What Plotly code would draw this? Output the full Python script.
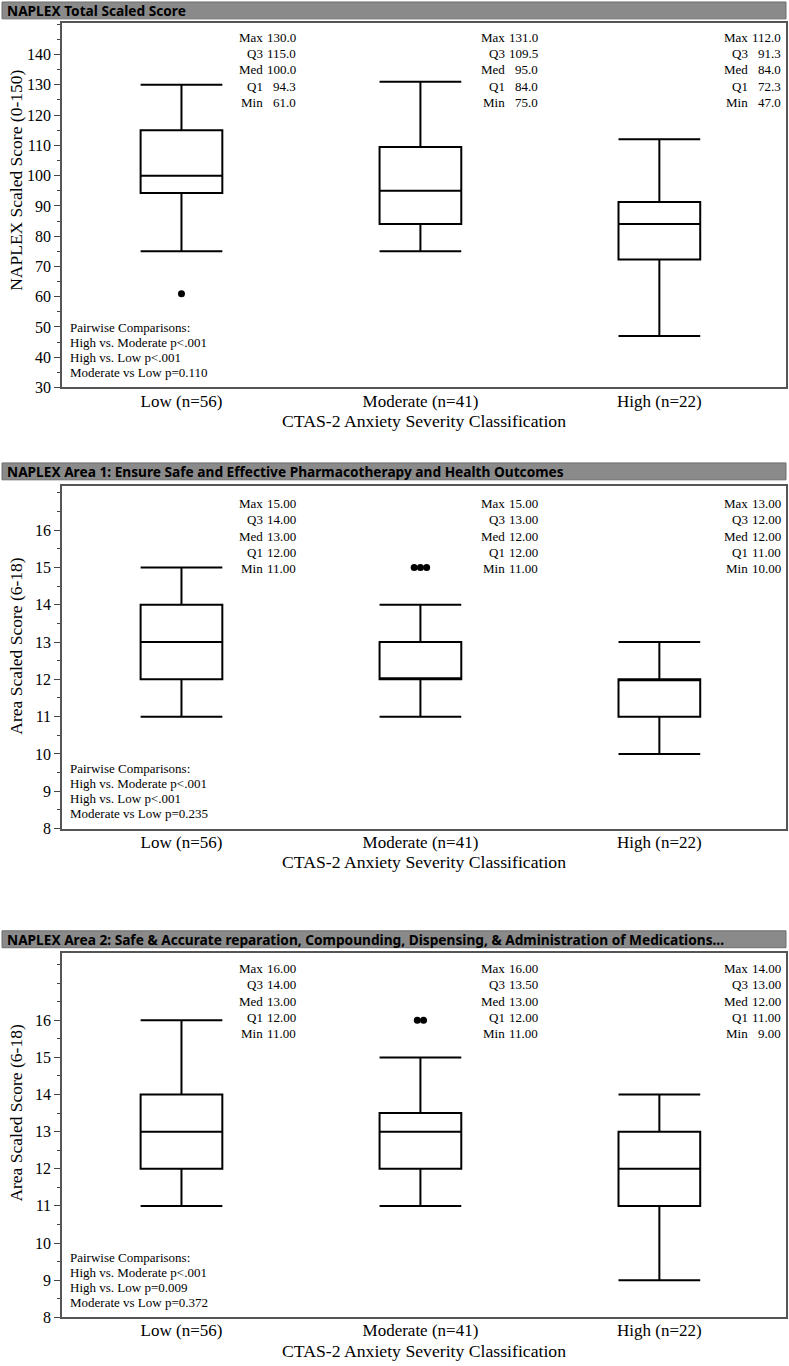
import plotly.graph_objects as go

W, H = 789, 1366

categories = ["Low (n=56)", "Moderate (n=41)", "High (n=22)"]
panel_titles = [
    "NAPLEX Total Scaled Score",
    "NAPLEX Area 1: Ensure Safe and Effective Pharmacotherapy and Health Outcomes",
    "NAPLEX Area 2: Safe & Accurate reparation, Compounding, Dispensing, & Administration of Medications...",
]
y_titles = ["NAPLEX Scaled Score (0-150)", "Area Scaled Score (6-18)", "Area Scaled Score (6-18)"]
x_title = "CTAS-2 Anxiety Severity Classification"
stat_labels = ["Max", "Q3", "Med", "Q1", "Min"]

# Panel 1: total scaled score
p1_max = [130.0, 131.0, 112.0]
p1_q3 = [115.0, 109.5, 91.3]
p1_med = [100.0, 95.0, 84.0]
p1_q1 = [94.3, 84.0, 72.3]
p1_min = [61.0, 75.0, 47.0]
p1_upper_whisker = [130.0, 131.0, 112.0]
p1_lower_whisker = [75.0, 75.0, 47.0]
p1_outliers = [[61.0], [], []]

# Panel 2: Area 1
p2_max = [15.00, 15.00, 13.00]
p2_q3 = [14.00, 13.00, 12.00]
p2_med = [13.00, 12.00, 12.00]
p2_q1 = [12.00, 12.00, 11.00]
p2_min = [11.00, 11.00, 10.00]
p2_upper_whisker = [15.0, 14.0, 13.0]
p2_lower_whisker = [11.0, 11.0, 10.0]
p2_outliers = [[], [15.0, 15.0, 15.0], []]

# Panel 3: Area 2
p3_max = [16.00, 16.00, 14.00]
p3_q3 = [14.00, 13.50, 13.00]
p3_med = [13.00, 13.00, 12.00]
p3_q1 = [12.00, 12.00, 11.00]
p3_min = [11.00, 11.00, 9.00]
p3_upper_whisker = [16.0, 15.0, 14.0]
p3_lower_whisker = [11.0, 11.0, 9.0]
p3_outliers = [[], [16.0, 16.0], []]

pairwise = [
    ["Pairwise Comparisons:", "High vs. Moderate p<.001", "High vs. Low p<.001", "Moderate vs Low p=0.110"],
    ["Pairwise Comparisons:", "High vs. Moderate p<.001", "High vs. Low p<.001", "Moderate vs Low p=0.235"],
    ["Pairwise Comparisons:", "High vs. Moderate p<.001", "High vs. Low p=0.009", "Moderate vs Low p=0.372"],
]

y_tickvals = [list(range(30, 150, 10)), list(range(8, 17)), list(range(8, 17))]

# layout (pixel positions on the 789x1366 canvas)
panels = [
    dict(mx=p1_max, q3=p1_q3, med=p1_med, q1=p1_q1, mn=p1_min, uw=p1_upper_whisker,
         lw=p1_lower_whisker, out=p1_outliers, rng=[30, 150.5], tick0=30, minor=5, fmt="{:.1f}",
         bar=(2, 19), frame=(23, 390), stat_top=14.5, ytitle_c=182),
    dict(mx=p2_max, q3=p2_q3, med=p2_med, q1=p2_q1, mn=p2_min, uw=p2_upper_whisker,
         lw=p2_lower_whisker, out=p2_outliers, rng=[8, 17.19], tick0=8, minor=0.5, fmt="{:.2f}",
         bar=(466, 483), frame=(489, 834), stat_top=18, ytitle_c=650),
    dict(mx=p3_max, q3=p3_q3, med=p3_med, q1=p3_q1, mn=p3_min, uw=p3_upper_whisker,
         lw=p3_lower_whisker, out=p3_outliers, rng=[8, 17.82], tick0=8, minor=0.5, fmt="{:.2f}",
         bar=(937, 954), frame=(959, 1326), stat_top=16, ytitle_c=1120),
]

SERIF = "Liberation Serif"
FR_L, FR_R = 62, 786
X_RANGE = [-0.5, 2.53]
STAT_RIGHT = [298, 540, 783]


def xp(px):
    return px / W


def yp(px):
    return 1 - px / H


fig = go.Figure()
shapes = []
annotations = []
layout_axes = {}

for i, p in enumerate(panels):
    n = i + 1
    ftop, fbot = p["frame"]
    b0, b1 = p["bar"]
    xa = "x" if n == 1 else f"x{n}"
    ya = "y" if n == 1 else f"y{n}"
    xkey = "xaxis" if n == 1 else f"xaxis{n}"
    ykey = "yaxis" if n == 1 else f"yaxis{n}"

    fig.add_trace(go.Box(
        x=[0, 1, 2], q1=p["q1"], median=p["med"], q3=p["q3"],
        lowerfence=p["lw"], upperfence=p["uw"],
        width=0.342, whiskerwidth=1, boxpoints=False,
        fillcolor="white", line=dict(color="black", width=2),
        xaxis=xa, yaxis=ya, showlegend=False, hoverinfo="skip",
    ))
    ox, oy = [], []
    for c, vals in enumerate(p["out"]):
        k = len(vals)
        for j, v in enumerate(vals):
            ox.append(c + (j - (k - 1) / 2) * 0.026)
            oy.append(v)
    if ox:
        fig.add_trace(go.Scatter(
            x=ox, y=oy, mode="markers", marker=dict(color="black", size=7),
            xaxis=xa, yaxis=ya, showlegend=False, hoverinfo="skip",
        ))

    layout_axes[xkey] = dict(
        domain=[xp(FR_L), xp(FR_R)], range=X_RANGE, anchor=ya,
        tickmode="array", tickvals=[0, 1, 2], ticktext=categories,
        ticks="", ticklabelstandoff=-3, showgrid=False, zeroline=False,
        showline=True, mirror=True, linecolor="#555", linewidth=1.5,
        tickfont=dict(family=SERIF, size=17, color="black"),
    )
    layout_axes[ykey] = dict(
        domain=[yp(fbot), yp(ftop)], range=p["rng"], anchor=xa,
        tickmode="array", tickvals=y_tickvals[i],
        ticks="outside", ticklen=6, tickcolor="#444",
        showgrid=False, zeroline=False,
        showline=True, mirror=True, linecolor="#555", linewidth=1.5,
        tickfont=dict(family=SERIF, size=16, color="black"),
        minor=dict(tickmode="linear", tick0=p["tick0"], dtick=p["minor"],
                   ticks="outside", ticklen=3, tickcolor="#444", showgrid=False),
    )

    # title bar
    shapes.append(dict(type="rect", xref="paper", yref="paper",
                       x0=xp(2), x1=xp(786), y0=yp(b1), y1=yp(b0),
                       fillcolor="#8a8a8a", line=dict(color="#6e6e6e", width=1), layer="below"))
    annotations.append(dict(xref="paper", yref="paper", x=xp(5), y=yp((b0 + b1) / 2),
                            xanchor="left", yanchor="middle", showarrow=False,
                            text=f"<b>{panel_titles[i]}</b>",
                            font=dict(family="Noto Sans", size=13.7, color="black")))

    # stats blocks (one line per annotation)
    for c in range(3):
        vals = [p["mx"][c], p["q3"][c], p["med"][c], p["q1"][c], p["mn"][c]]
        for L, (lab, v) in enumerate(zip(stat_labels, vals)):
            ycen = yp(ftop + p["stat_top"] + L * 16.4)
            annotations.append(dict(xref="paper", yref="paper", x=xp(STAT_RIGHT[c]), y=ycen,
                                    xanchor="right", yanchor="middle", showarrow=False,
                                    text=p["fmt"].format(v),
                                    font=dict(family=SERIF, size=13, color="black")))
            annotations.append(dict(xref="paper", yref="paper", x=xp(STAT_RIGHT[c] - 33), y=ycen,
                                    xanchor="right", yanchor="middle", showarrow=False,
                                    text=lab,
                                    font=dict(family=SERIF, size=13, color="black")))

    # pairwise comparisons (one line per annotation)
    nl = len(pairwise[i])
    for L, line in enumerate(pairwise[i]):
        annotations.append(dict(xref="paper", yref="paper", x=xp(FR_L + 6),
                                y=yp(fbot - 15 - (nl - 1 - L) * 15),
                                xanchor="left", yanchor="middle", showarrow=False, text=line,
                                font=dict(family=SERIF, size=13, color="black")))

    # axis titles
    annotations.append(dict(xref="paper", yref="paper", x=xp(424), y=yp(fbot + 34),
                            xanchor="center", yanchor="middle", showarrow=False, text=x_title,
                            font=dict(family=SERIF, size=17.7, color="black")))
    annotations.append(dict(xref="paper", yref="paper", x=xp(16), y=yp(p["ytitle_c"]),
                            xanchor="center", yanchor="middle", showarrow=False, text=y_titles[i],
                            textangle=-90, font=dict(family=SERIF, size=17.5, color="black")))

fig.update_layout(
    width=W, height=H, margin=dict(l=0, r=0, t=0, b=0),
    paper_bgcolor="white", plot_bgcolor="white",
    shapes=shapes, annotations=annotations, showlegend=False,
    **layout_axes,
)

fig.write_html(
    "out.html",
    config={"displayModeBar": False},
    post_script="document.body.style.margin='0px';document.body.style.overflow='hidden';",
)
